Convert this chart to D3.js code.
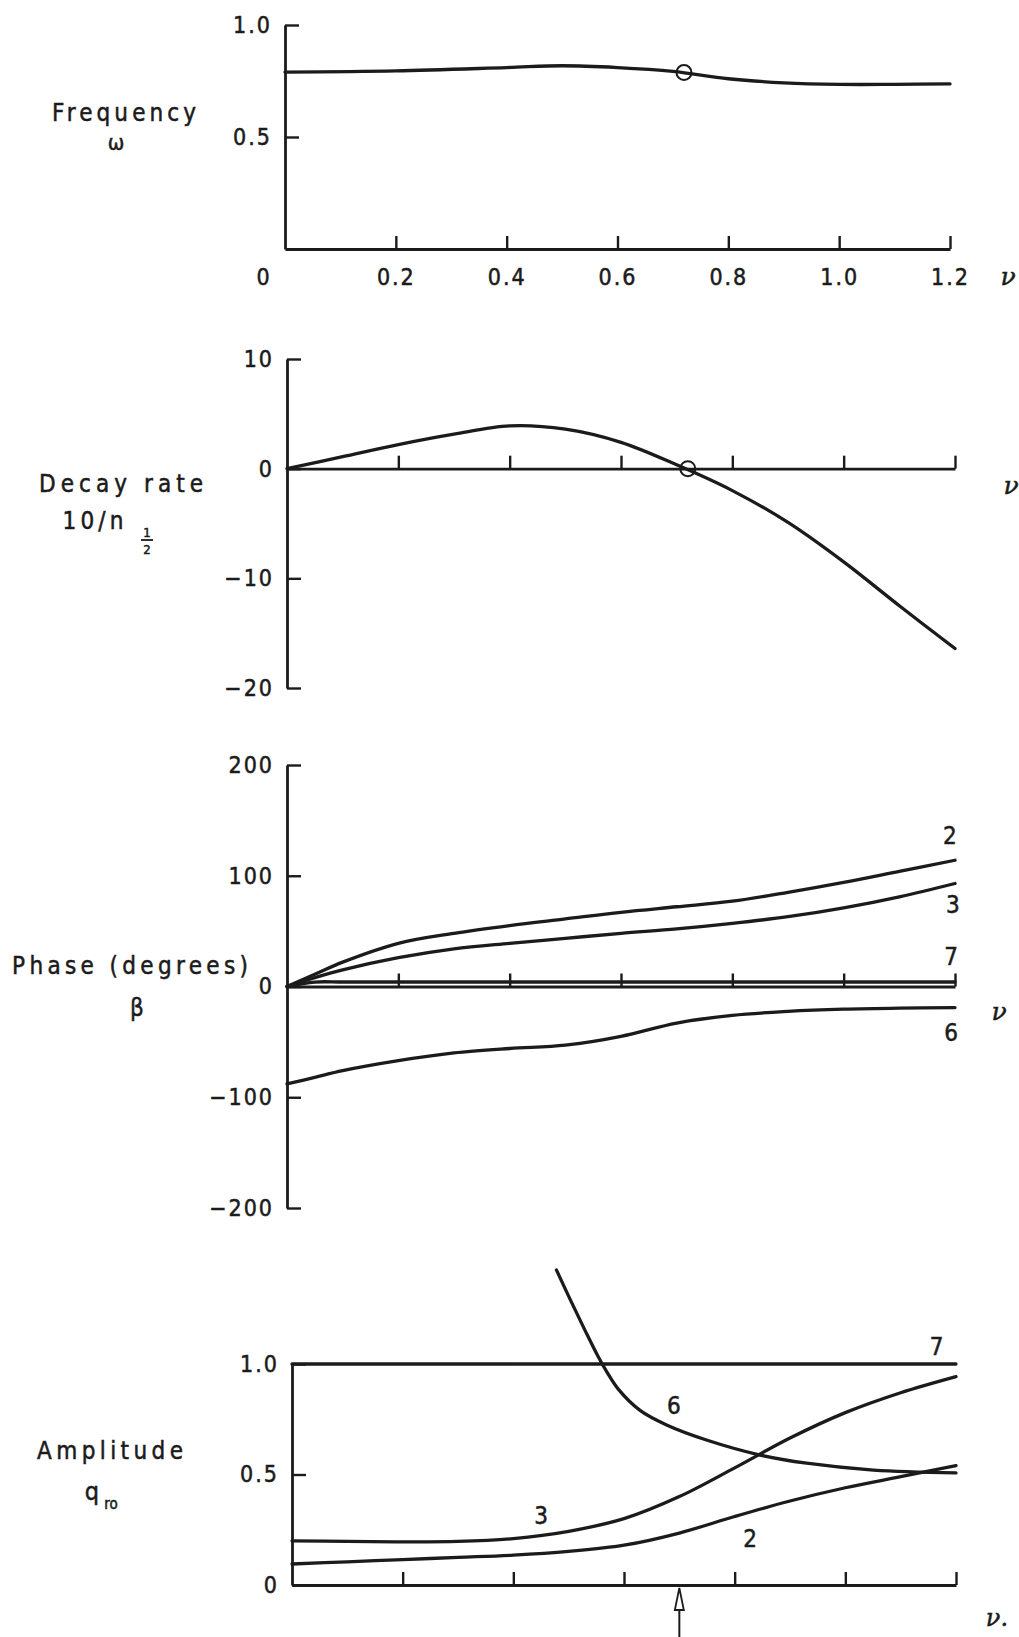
<!DOCTYPE html>
<html>
<head>
<meta charset="utf-8">
<script src="https://cdn.jsdelivr.net/npm/d3@7"></script>
<style>
  html, body { margin: 0; padding: 0; background: #fff; }
  svg { display: block; }
  text { font-family: "DejaVu Sans", "Liberation Sans", sans-serif; font-stretch: condensed; fill: #1b1b1b; stroke: #1b1b1b; stroke-width: 0.5px; }
</style>
</head>
<body>
<svg id="chart" width="1019" height="1637"></svg>
<script>
// ---- data: response of the oscillation versus the parameter nu ----
const xTicks = [0.2, 0.4, 0.6, 0.8, 1.0, 1.2];

// frequency omega
const freqNu    = [0, 0.2, 0.4, 0.5, 0.6, 0.7, 0.8, 0.9, 1.0, 1.1, 1.2];
const freqOmega = [0.79, 0.795, 0.81, 0.818, 0.81, 0.793, 0.76, 0.742, 0.735, 0.735, 0.737];
const freqTicks = [0.5, 1.0];

// decay rate 10/n_1/2
const decayNu   = [0, 0.1, 0.2, 0.3, 0.4, 0.5, 0.6, 0.7, 0.8, 0.9, 1.0, 1.1, 1.2];
const decayRate = [0, 1.1, 2.2, 3.15, 3.9, 3.6, 2.4, 0.35, -2.0, -4.9, -8.5, -12.5, -16.4];
const decayTicks = [-20, -10, 0, 10];

// neutral-stability point marked on the first two plots
const neutralNu = 0.72;
const neutralOmega = 0.788;
const neutralDecay = 0;

// phase beta (degrees) of coordinates 2, 3, 6, 7
const phaseNu = [0, 0.05, 0.1, 0.2, 0.3, 0.4, 0.5, 0.6, 0.7, 0.8, 0.9, 1.0, 1.1, 1.2];
const phase2  = [0, 11, 22, 39, 48, 55, 61, 67, 72, 77, 85, 94, 104, 114];
const phase3  = [0, 8, 15, 26, 34, 39, 43.5, 48, 52, 57, 63, 71, 81, 93];
const phase6  = [-88, -82, -76, -67, -60, -56, -53, -45, -33, -26, -22.5, -20.5, -19.5, -19];
const phase7  = [0, 4, 4, 4, 4, 4, 4, 4, 4, 4, 4, 4, 4, 4];
const phaseTicks = [-200, -100, 0, 100, 200];

// amplitude q_ro of coordinates 2, 3, 6, 7
const ampNu = [0, 0.1, 0.2, 0.3, 0.4, 0.5, 0.6, 0.7, 0.8, 0.9, 1.0, 1.1, 1.2];
const amp2  = [0.095, 0.105, 0.115, 0.125, 0.135, 0.152, 0.18, 0.235, 0.31, 0.38, 0.44, 0.49, 0.54];
const amp3  = [0.2, 0.197, 0.195, 0.197, 0.21, 0.243, 0.30, 0.40, 0.53, 0.665, 0.78, 0.87, 0.943];
const amp7  = [1, 1, 1, 1, 1, 1, 1, 1, 1, 1, 1, 1, 1];
const amp6Nu = [0.478, 0.505, 0.53, 0.553, 0.57, 0.59, 0.629, 0.677, 0.749, 0.846, 0.93, 1.051, 1.2];
const amp6   = [1.425, 1.28, 1.15, 1.035, 0.96, 0.885, 0.79, 0.724, 0.656, 0.588, 0.551, 0.52, 0.507];
const ampTicks = [0, 0.5, 1.0];
const markedNu = 0.7;

// ---- drawing ----
const ink = "#1b1b1b";
const svg = d3.select("#chart");
const zip = (xs, ys) => xs.map((x, i) => [x, ys[i]]);
const minus = d => d < 0 ? "\u2212" + Math.abs(d) : String(d);
const oneDec = d3.format(".1f");

function makePanel(xRange, yDomain, yRange, yTicks, yFormat, xLabels) {
  const x = d3.scaleLinear().domain([0, 1.2]).range(xRange);
  const y = d3.scaleLinear().domain(yDomain).range(yRange);
  const g = svg.append("g");

  const yAxis = d3.axisLeft(y).tickValues(yTicks).tickSizeInner(-14).tickSizeOuter(0)
    .tickPadding(13).tickFormat(yFormat);
  const ga = g.append("g").attr("transform", `translate(${x(0)},0)`).call(yAxis);

  const xAxis = d3.axisBottom(x).tickValues(xTicks).tickSizeInner(-13).tickSizeOuter(0)
    .tickPadding(20).tickFormat(xLabels ? oneDec : "");
  const gb = g.append("g").attr("transform", `translate(0,${y(0)})`).call(xAxis);

  [ga, gb].forEach(a => {
    a.attr("color", ink).attr("font-size", 23).attr("font-family", null);
    a.select(".domain").attr("stroke-width", 2.8);
    a.selectAll(".tick line").attr("stroke-width", 2.4);
    a.selectAll("text").attr("letter-spacing", "2px").attr("stroke", ink).attr("stroke-width", 0.5);
  });
  return { x, y, g };
}

function curve(p, pts, w) {
  p.g.append("path")
    .datum(pts)
    .attr("fill", "none")
    .attr("stroke", ink)
    .attr("stroke-width", w || 3.3)
    .attr("stroke-linecap", "round")
    .attr("d", d3.line().x(d => p.x(d[0])).y(d => p.y(d[1])).curve(d3.curveCatmullRom.alpha(0.5)));
}

function nuGlyph(t) {
  return t.style("font-family", "'DejaVu Serif', serif").style("font-style", "italic").style("font-stretch", "normal");
}

function label(p, nu, v, txt, size, serif) {
  const t = p.g.append("text")
    .attr("x", p.x(nu)).attr("y", p.y(v))
    .attr("text-anchor", "middle").attr("dominant-baseline", "central")
    .attr("font-size", size || 24).text(txt);
  if (serif) nuGlyph(t);
  return t;
}

function title(xc, yc, txt, size, width) {
  const t = svg.append("text").attr("x", xc).attr("y", yc)
    .attr("text-anchor", "middle").attr("dominant-baseline", "central")
    .attr("font-size", size).text(txt);
  if (width) t.attr("textLength", width).attr("lengthAdjust", "spacing");
  return t;
}

// 1. frequency
const p1 = makePanel([285, 950], [0, 1], [249, 25], freqTicks, oneDec, true);
curve(p1, zip(freqNu, freqOmega));
p1.g.append("circle").attr("cx", p1.x(neutralNu)).attr("cy", p1.y(neutralOmega)).attr("r", 7.5)
  .attr("fill", "none").attr("stroke", ink).attr("stroke-width", 2);
p1.g.append("text").attr("x", p1.x(0) - 22).attr("y", p1.y(0) + 28)
  .attr("text-anchor", "middle").attr("dominant-baseline", "central").attr("font-size", 23).text("0");
nuGlyph(p1.g.append("text").attr("x", p1.x(1.2) + 58).attr("y", p1.y(0) + 27)
  .attr("text-anchor", "middle").attr("dominant-baseline", "central").attr("font-size", 25).text("ν"));
title(124, 113, "Frequency", 24, 144);
title(116, 142, "ω", 22);

// 2. decay rate
const p2 = makePanel([287, 955], [-20, 10], [688, 359], decayTicks, minus, false);
curve(p2, zip(decayNu, decayRate));
p2.g.append("circle").attr("cx", p2.x(neutralNu)).attr("cy", p2.y(neutralDecay)).attr("r", 7.5)
  .attr("fill", "none").attr("stroke", ink).attr("stroke-width", 2);
nuGlyph(p2.g.append("text").attr("x", p2.x(1.2) + 56).attr("y", p2.y(0) + 17)
  .attr("text-anchor", "middle").attr("dominant-baseline", "central").attr("font-size", 25).text("ν"));
title(121, 484, "Decay rate", 24, 164);
title(93, 521, "10/n", 24, 61);
title(147, 532, "1", 13);
svg.append("line").attr("x1", 141).attr("x2", 153).attr("y1", 540).attr("y2", 540)
  .attr("stroke", ink).attr("stroke-width", 1.8);
title(147, 549, "2", 13);

// 3. phase
const p3 = makePanel([287, 955], [-200, 200], [1208, 765], phaseTicks, minus, false);
curve(p3, zip(phaseNu, phase7), 3.4);
curve(p3, zip(phaseNu, phase2));
curve(p3, zip(phaseNu, phase3));
curve(p3, zip(phaseNu, phase6));
label(p3, 1.191, 135.5, "2");
label(p3, 1.196, 74, "3");
label(p3, 1.193, 27, "7");
label(p3, 1.193, -41.6, "6");
label(p3, 1.279, -22.6, "ν", 25, true);
title(130, 966, "Phase (degrees)", 24, 236);
title(137, 1008, "β", 24);

// 4. amplitude
const p4 = makePanel([292, 956], [0, 1], [1585, 1364], ampTicks, d => d === 0 ? "0" : oneDec(d), false);
curve(p4, zip(ampNu, amp7));
curve(p4, zip(amp6Nu, amp6));
curve(p4, zip(ampNu, amp3));
curve(p4, zip(ampNu, amp2));
label(p4, 1.165, 1.077, "7");
label(p4, 0.69, 0.81, "6");
label(p4, 0.45, 0.31, "3");
label(p4, 0.828, 0.21, "2");
label(p4, 1.274, -0.15, "ν.", 24, true);
title(110, 1451, "Amplitude", 24, 146);
title(92, 1491, "q", 25);
title(111, 1504, "ro", 15);

// arrow marking the neutral value of nu
const ax = p4.x(markedNu), ay = p4.y(0);
p4.g.append("path")
  .attr("d", `M${ax},${ay + 3} L${ax - 4.5},${ay + 25} L${ax + 4.5},${ay + 25} Z`)
  .attr("fill", "#fff").attr("stroke", ink).attr("stroke-width", 1.8);
p4.g.append("line").attr("x1", ax).attr("x2", ax).attr("y1", ay + 25).attr("y2", 1637)
  .attr("stroke", ink).attr("stroke-width", 2);
</script>
</body>
</html>
